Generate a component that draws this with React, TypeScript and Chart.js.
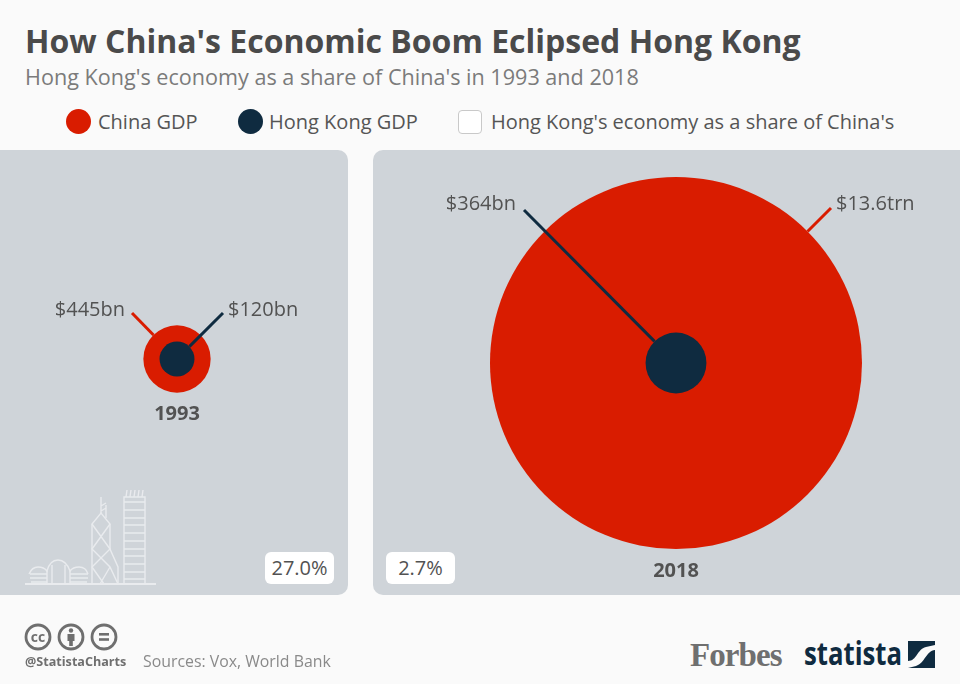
import React, { useEffect, useRef } from "react";
import { Chart, registerables, Plugin } from "chart.js";

Chart.register(...registerables);

// Chart data, in $bn
const years = ["1993", "2018"];
const chinaGdp = [445, 13600];
const hongKongGdp = [120, 364];
const chinaLabels = ["$445bn", "$13.6trn"];
const hongKongLabels = ["$120bn", "$364bn"];
const shareLabels = ["27.0%", "2.7%"];

const RED = "#d91c00";
const NAVY = "#0f2b40";
const PANEL = "#cfd4d9";
const TEXT = "#525252";
const FONT = "'Open Sans', sans-serif";

// bubble area is proportional to GDP, both panels share the same factor
const bubbleRadius = (gdp: number) => Math.sqrt(gdp) * 1.595;

type Leader = { dx: number; dy: number; labelDy: number; gap: number };

// Draws the leader lines, the value labels and the year under the bubbles
const annotate = (
  index: number,
  chinaLeader: Leader,
  hongKongLeader: Leader,
  yearOffset: number
): Plugin<"bubble"> => ({
  id: "annotate",
  afterDatasetsDraw(chart) {
    const ctx = chart.ctx;
    const hk: any = chart.getDatasetMeta(0).data[0];
    const china: any = chart.getDatasetMeta(1).data[0];
    const rows = [
      { el: china, leader: chinaLeader, color: RED, label: chinaLabels[index] },
      { el: hk, leader: hongKongLeader, color: NAVY, label: hongKongLabels[index] },
    ];
    ctx.save();
    rows.forEach(({ el, leader, color, label }) => {
      const len = Math.hypot(leader.dx, leader.dy);
      const r = el.options.radius;
      const endX = el.x + leader.dx;
      const endY = el.y + leader.dy;
      ctx.beginPath();
      ctx.moveTo(el.x + (leader.dx / len) * r, el.y + (leader.dy / len) * r);
      ctx.lineTo(endX, endY);
      ctx.strokeStyle = color;
      ctx.lineWidth = 3;
      ctx.stroke();

      ctx.font = `20px ${FONT}`;
      ctx.fillStyle = TEXT;
      ctx.textBaseline = "middle";
      ctx.textAlign = leader.dx > 0 ? "left" : "right";
      ctx.fillText(label, endX + leader.gap, el.y + leader.labelDy);
    });
    ctx.font = `bold 20px ${FONT}`;
    ctx.textAlign = "center";
    ctx.textBaseline = "middle";
    ctx.fillStyle = TEXT;
    ctx.fillText(years[index], china.x, china.y + yearOffset);
    ctx.restore();
  },
});

type PanelProps = {
  index: number;
  left: number;
  width: number;
  radius: string;
  padLeft: number;
  padBottom: number;
  chinaLeader: Leader;
  hongKongLeader: Leader;
  yearOffset: number;
  badgeLeft: number;
};

const YearPanel: React.FC<PanelProps> = (p) => {
  const canvasRef = useRef<HTMLCanvasElement>(null);

  useEffect(() => {
    if (!canvasRef.current) return;
    const chart = new Chart(canvasRef.current, {
      type: "bubble",
      data: {
        labels: [years[p.index]],
        datasets: [
          {
            label: "Hong Kong GDP",
            data: [{ x: years[p.index], y: 0, r: bubbleRadius(hongKongGdp[p.index]) }] as any,
            backgroundColor: NAVY,
            borderWidth: 0,
            hoverBorderWidth: 0,
          },
          {
            label: "China GDP",
            data: [{ x: years[p.index], y: 0, r: bubbleRadius(chinaGdp[p.index]) }] as any,
            backgroundColor: RED,
            borderWidth: 0,
            hoverBorderWidth: 0,
          },
        ],
      },
      options: {
        responsive: false,
        animation: false,
        events: [],
        layout: { autoPadding: false, padding: { left: p.padLeft, bottom: p.padBottom } },
        scales: {
          x: { type: "category", offset: true, display: false },
          y: { type: "linear", min: -1, max: 1, display: false },
        },
        plugins: { legend: { display: false }, tooltip: { enabled: false } },
      },
      plugins: [annotate(p.index, p.chinaLeader, p.hongKongLeader, p.yearOffset)],
    });
    return () => chart.destroy();
  }, []);

  return (
    <div
      style={{
        position: "absolute",
        left: p.left,
        top: 150,
        width: p.width,
        height: 445,
        background: PANEL,
        borderRadius: p.radius,
      }}
    >
      <canvas ref={canvasRef} width={p.width} height={445} style={{ display: "block" }} />
      <div
        style={{
          position: "absolute",
          left: p.badgeLeft,
          top: 402,
          width: 69,
          height: 32,
          background: "#fff",
          borderRadius: 6,
          fontSize: 20,
          lineHeight: "32px",
          textAlign: "center",
          color: TEXT,
        }}
      >
        {shareLabels[p.index]}
      </div>
    </div>
  );
};

const Skyline = () => (
  <svg
    width={140}
    height={105}
    viewBox="20 485 140 105"
    fill="none"
    stroke="#e9ebee"
    strokeWidth={1.4}
    style={{ position: "absolute", left: 20, top: 485 }}
  >
    <path d="M25 584H156" strokeWidth={1.8} />
    {/* right tower */}
    <path d="M124 584V497H145V584" />
    <path d="M124 502H145M124 510H145M124 518H145M124 525H145M124 533H145M124 541H145M124 549H145M124 556H145M124 564H145M124 572H145M124 579H145" />
    <path d="M126 497L127 490M130 497L131 490M134 497L135 490M138 497L139 490M142 497L143 490" />
    {/* Bank of China */}
    <path d="M101 497V513M106 505V518M101 506L106 503M101 511L106 508" />
    <path d="M92 584V524L101 513L110 524V549L118 567V584" />
    <path d="M92 524L110 549L92 567M110 524L92 549L110 567L118 584M110 567L100 584M92 567L104 584" />
    {/* domes */}
    <path d="M29 574Q32 567 38 567Q44 567 47 571Q50 560 58 560Q66 560 70 571Q73 567 79 567Q86 567 88 574" />
    <path d="M30 574H47M30 578H47M31 582H47M70 574H88M70 578H88M70 582H87M47 584V571M52 584V565M65 584V565M70 584V571" />
  </svg>
);

const CcIcons = () => (
  <svg width={96} height={30} style={{ position: "absolute", left: 24, top: 622 }}>
    <g fill="none" stroke="#6f6f6f" strokeWidth={2.8}>
      <circle cx={14} cy={15} r={12} />
      <circle cx={47} cy={15} r={12} />
      <circle cx={80} cy={15} r={12} />
    </g>
    <text x={14} y={20} textAnchor="middle" fontFamily={FONT} fontWeight={700} fontSize={14} fill="#6f6f6f">
      cc
    </text>
    <g fill="#6f6f6f">
      <circle cx={47} cy={8.5} r={2.2} />
      <path d="M43.5 12H50.5V19H48.8V24H45.2V19H43.5Z" />
      <rect x={75} y={11} width={10} height={2.6} />
      <rect x={75} y={16.2} width={10} height={2.6} />
    </g>
  </svg>
);

const abs = (left: number, top: number, extra: React.CSSProperties): React.CSSProperties => ({
  position: "absolute",
  left,
  top,
  whiteSpace: "nowrap",
  ...extra,
});

const legendText: React.CSSProperties = { fontSize: 20, lineHeight: "28px", color: "#555" };
const legendDot: React.CSSProperties = { width: 25, height: 25, borderRadius: "50%" };

const App: React.FC = () => (
  <div
    style={{
      position: "absolute",
      left: 0,
      top: 0,
      width: 960,
      height: 684,
      overflow: "hidden",
      background: "#fafafa",
      fontFamily: FONT,
    }}
  >
    <div style={abs(25, 20, { fontSize: 32, lineHeight: "42px", fontWeight: 700, color: "#4a4a4a" })}>
      How China's Economic Boom Eclipsed Hong Kong
    </div>
    <div style={abs(25, 62, { fontSize: 21.6, lineHeight: "30px", color: "#7b7b7b" })}>
      Hong Kong's economy as a share of China's in 1993 and 2018
    </div>

    <div style={abs(66, 109, { ...legendDot, background: RED })} />
    <div style={abs(98, 108, legendText)}>China GDP</div>
    <div style={abs(238, 109, { ...legendDot, background: NAVY })} />
    <div style={abs(269, 108, legendText)}>Hong Kong GDP</div>
    <div
      style={abs(458, 110, {
        width: 22,
        height: 22,
        background: "#fff",
        border: "1px solid #c9c9c9",
        borderRadius: 4,
      })}
    />
    <div style={abs(491, 108, legendText)}>Hong Kong's economy as a share of China's</div>

    <YearPanel
      index={0}
      left={0}
      width={348}
      radius="0 10px 10px 0"
      padLeft={6}
      padBottom={27}
      chinaLeader={{ dx: -45, dy: -46, labelDy: -49, gap: -7 }}
      hongKongLeader={{ dx: 46, dy: -46, labelDy: -49, gap: 5 }}
      yearOffset={55}
      badgeLeft={265}
    />
    <YearPanel
      index={1}
      left={373}
      width={587}
      radius="10px 0 0 10px"
      padLeft={19}
      padBottom={19}
      chinaLeader={{ dx: 155, dy: -155, labelDy: -159, gap: 5 }}
      hongKongLeader={{ dx: -152, dy: -153, labelDy: -159, gap: -8 }}
      yearOffset={208}
      badgeLeft={13}
    />
    <Skyline />

    <CcIcons />
    <div style={abs(25, 653, { fontSize: 12.6, lineHeight: "18px", fontWeight: 700, color: "#6f6f6f" })}>
      @StatistaCharts
    </div>
    <div style={abs(143, 649, { fontSize: 15.85, lineHeight: "24px", color: "#8a8a8a" })}>
      Sources: Vox, World Bank
    </div>

    <div
      style={abs(690, 634, {
        fontFamily: "'Liberation Serif', serif",
        fontSize: 33,
        lineHeight: "42px",
        fontWeight: 700,
        letterSpacing: -0.9,
        color: "#6f6f6f",
      })}
    >
      Forbes
    </div>
    <div
      style={abs(804, 632, {
        fontSize: 33,
        lineHeight: "42px",
        fontWeight: 700,
        color: NAVY,
        transform: "scaleX(0.78)",
        transformOrigin: "left center",
      })}
    >
      statista
    </div>
    <svg width={27} height={27} style={{ position: "absolute", left: 908, top: 641 }}>
      <rect width={27} height={27} fill={NAVY} />
      <path d="M0 20C9 20 9 8 18 6L27 4V9C18 10 17 22 8 25L0 27Z" fill="#fafafa" />
    </svg>
  </div>
);

export default App;
